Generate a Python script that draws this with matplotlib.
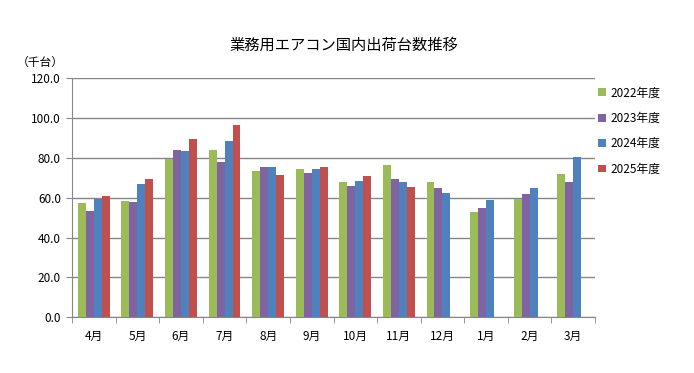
import numpy as np
import matplotlib.pyplot as plt

plt.rcParams['font.family'] = ['Noto Sans CJK JP', 'DejaVu Sans']

months = ['4月', '5月', '6月', '7月', '8月', '9月', '10月', '11月', '12月', '1月', '2月', '3月']
fy2022 = [57.4, 58.4, 79.5, 84.0, 73.5, 74.5, 67.9, 76.5, 67.9, 52.9, 59.4, 72.0]
fy2023 = [53.4, 57.9, 84.0, 78.0, 75.5, 72.5, 65.9, 69.5, 64.9, 54.9, 61.9, 67.9]
fy2024 = [59.4, 66.9, 83.5, 88.5, 75.5, 74.5, 68.5, 67.9, 62.4, 58.9, 64.9, 80.3]
fy2025 = [60.9, 69.5, 89.5, 96.6, 71.5, 75.5, 71.0, 65.4]

series = [('2022年度', fy2022, '#9BBB59'),
          ('2023年度', fy2023, '#8064A2'),
          ('2024年度', fy2024, '#4F81BD'),
          ('2025年度', fy2025, '#C0504D')]

fig = plt.figure(figsize=(6.94, 3.73), dpi=100)
ax = fig.add_axes([72 / 694, 1 - 317.3 / 373, 523 / 694, 239 / 373])

x = np.arange(len(months))
w = 0.183
for i, (name, vals, col) in enumerate(series):
    xs = x[:len(vals)] + (i - 1.5) * w
    ax.bar(xs, vals, width=w, color=col, label=name, zorder=3)

ax.set_xlim(-0.5, len(months) - 0.5)
ax.set_ylim(0, 120)
ax.set_yticks(np.arange(0, 121, 20))
ax.set_yticklabels(['%.1f' % v for v in np.arange(0, 121, 20)], fontsize=8.5)
ax.set_xticks(x)
ax.set_xticklabels(months, fontsize=8.5)
ax.set_xticks(np.arange(-0.5, len(months), 1), minor=True)
ax.tick_params(axis='x', which='major', length=0, pad=9)
ax.tick_params(axis='x', which='minor', length=4, color='#868686', direction='out')
ax.tick_params(axis='y', length=4, color='#868686', direction='out', pad=4)
ax.grid(axis='y', color='#868686', linewidth=1, zorder=0)
for s in ['top', 'right']:
    ax.spines[s].set_visible(False)
for s in ['left', 'bottom']:
    ax.spines[s].set_color('#868686')

fig.text(344 / 694, 1 - 45 / 373, '業務用エアコン国内出荷台数推移', ha='center', va='center', fontsize=11)
fig.text(17 / 694, 1 - 62 / 373, '（千台）', ha='left', va='center', fontsize=8.5)

ax.legend(loc='upper left', bbox_to_anchor=(598 / 694, 1 - 86.5 / 373), bbox_transform=fig.transFigure,
          frameon=False, fontsize=8.5, handlelength=0.65, handleheight=0.65, handletextpad=0.4,
          labelspacing=1.05, borderaxespad=0, borderpad=0)

fig.savefig('out.png', dpi=100)
